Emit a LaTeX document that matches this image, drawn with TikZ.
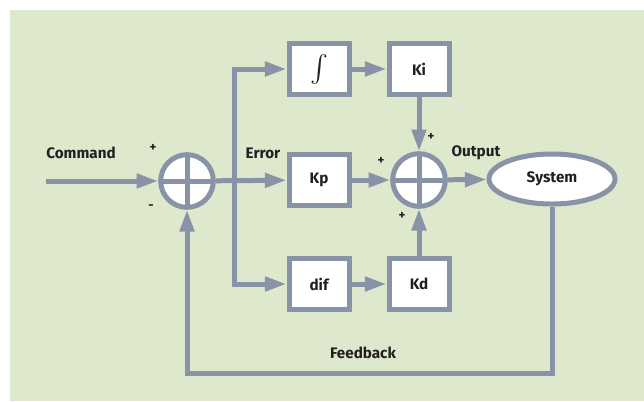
\documentclass[tikz,border=0pt]{standalone}
\usepackage{fontspec}
\setmainfont{Fira Sans}
\usetikzlibrary{arrows.meta,positioning,calc}
\definecolor{bgGreen}{RGB}{221,232,205}
\definecolor{lineGray}{RGB}{137,147,167}
\definecolor{txtDark}{RGB}{35,31,32}
\tikzstyle{bS}=[rectangle,draw=lineGray,fill=white,line width=1.5mm,minimum width=18mm,minimum height=15.3mm,inner sep=0pt,font=\fontsize{13}{15}\selectfont\bfseries,text=txtDark]
\tikzstyle{sumS}=[circle,draw=lineGray,fill=white,line width=1.5mm,minimum size=15.8mm,inner sep=0pt,
  path picture={\draw[lineGray,line width=1.5mm] (path picture bounding box.north) -- (path picture bounding box.south)
    (path picture bounding box.west) -- (path picture bounding box.east);}]
\tikzstyle{sysS}=[ellipse,draw=lineGray,fill=white,line width=1.5mm,minimum width=37.8mm,minimum height=15mm,inner sep=0pt,font=\fontsize{13}{15}\selectfont\bfseries,text=txtDark]
\tikzstyle{lS}=[inner sep=0pt,font=\fontsize{13}{15}\selectfont\bfseries,text=txtDark]
\tikzstyle{sgS}=[inner sep=0pt,font=\fontsize{11}{13}\selectfont\bfseries,text=txtDark]
\tikzstyle{eArrow}=[draw=lineGray,line width=1.5mm,-{Triangle[length=6.5mm,width=4.2mm]}]
\tikzstyle{eLine}=[draw=lineGray,line width=1.5mm]
\usetikzlibrary{shapes.geometric}
\begin{document}
\begin{tikzpicture}[x=0.3mm,y=-0.3mm]%[1px = 0.3mm]
                \useasboundingbox (0,0) rectangle (644,401);
                \fill[bgGreen] (10,10) rectangle (644,401);
                % blocks
                \draw (187,181) node[sumS] (s1) {};
                \draw (419,180) node[sumS] (s2) {};
                \draw (319,69) node[bS] (int) {\scalebox{2.3}{$\int$}};
                \draw (419,69) node[bS] (ki) {Ki};
                \draw (319,180) node[bS] (kp) {Kp};
                \draw (319,284) node[bS] (dif) {dif};
                \draw (419,284) node[bS] (kd) {Kd};
                \draw (552,179) node[sysS] (sys) {System};
                \coordinate (cmd) at (46,181);
                \coordinate (br) at (234,181);
                \coordinate (fb) at (363,373);
                % labels
                \draw (81,153) node[lS] (lCmd) {Command};
                \draw (263,153) node[lS] (lErr) {Error};
                \draw (476,153) node[lS] (lOut) {Output};
                \draw (363,353) node[lS] (lFb) {Feedback};
                \draw (153,148) node[sgS] (p1) {+};
                \draw (151,207) node[sgS] (m1) {-};
                \draw (431,137) node[sgS] (p2) {+};
                \draw (381,161) node[sgS] (p3) {+};
                \draw (402,216) node[sgS] (p4) {+};
                % connectors
                \path
                    (cmd) edge[eArrow] (s1)
                    (s1) edge[eArrow] (kp)
                    (int) edge[eArrow] (ki)
                    (dif) edge[eArrow] (kd)
                    (ki) edge[eArrow] (s2)
                    (kp) edge[eArrow] (s2)
                    (kd) edge[eArrow] (s2)
                    (s2) edge[eArrow] (sys)
                ;
                \draw[eArrow] (br) |- (int.west);
                \draw[eArrow] (br) |- (dif.west);
                \draw[eArrow] (sys.south) |- (fb) -| (s1.south);
        \end{tikzpicture}
\end{document}
